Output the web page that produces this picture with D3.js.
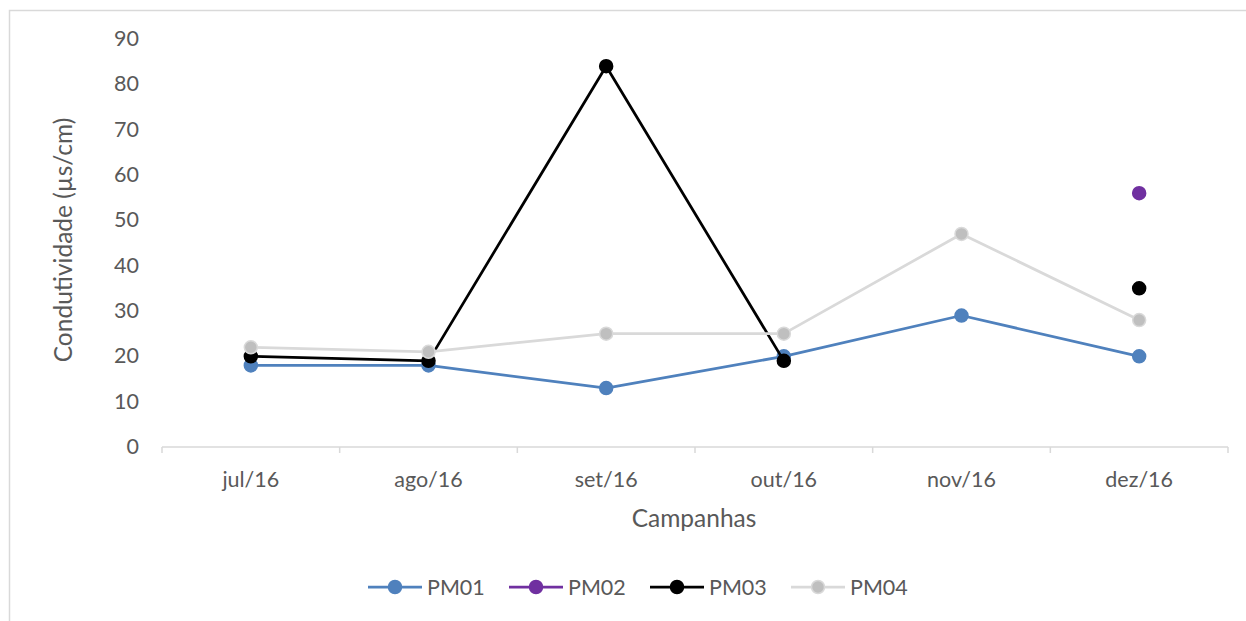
<!DOCTYPE html>
<html><head><meta charset="utf-8">
<script src="https://cdn.jsdelivr.net/npm/d3@7"></script>
<style>body{margin:0;background:#fff}svg{display:block}text{font-family:Lato,"Open Sans",sans-serif;fill:#595959}</style>
</head><body>
<svg id="c" width="1246" height="621"></svg>
<script>
const categories = ["jul/16","ago/16","set/16","out/16","nov/16","dez/16"];
const seriesNames = ["PM01","PM02","PM03","PM04"];
const PM01 = [18,18,13,20,29,20];
const PM02 = [null,null,null,null,null,56];
const PM03 = [20,19,84,19,null,35];
const PM04 = [22,21,25,25,47,28];
const yTicks = [0,10,20,30,40,50,60,70,80,90];
const colors = {PM01:{line:"#4F81BD",dot:"#4F81BD",stroke:"#4F81BD"},PM02:{line:"#7030A0",dot:"#7030A0",stroke:"#7030A0"},PM03:{line:"#000000",dot:"#000000",stroke:"#000000"},PM04:{line:"#D9D9D9",dot:"#BFBFBF",stroke:"#D9D9D9"}};
const data = {PM01,PM02,PM03,PM04};

const svg = d3.select("#c");
svg.append("rect").attr("x",9.5).attr("y",10.5).attr("width",1246).attr("height",620).attr("fill","#fff").attr("stroke","#D9D9D9").attr("stroke-width",1.5);

const x = d3.scaleBand().domain(categories).range([162,1228]);
const y = d3.scaleLinear().domain([0,90]).range([447,39]);

// x axis
const xa = svg.append("g").attr("transform","translate(0,447)");
xa.append("line").attr("x1",162).attr("x2",1228).attr("stroke","#D9D9D9").attr("stroke-width",1.5);
const bounds = d3.range(categories.length+1).map(i=>162+i*x.bandwidth());
xa.selectAll("line.t").data(bounds).join("line").attr("class","t").attr("x1",d=>d).attr("x2",d=>d).attr("y1",0).attr("y2",6).attr("stroke","#D9D9D9").attr("stroke-width",1.5);
xa.selectAll("text").data(categories).join("text").attr("x",d=>x(d)+x.bandwidth()/2).attr("y",40).attr("text-anchor","middle").attr("font-size",21.5).text(d=>d);

// y axis labels
svg.selectAll("text.yt").data(yTicks).join("text").attr("class","yt").attr("x",139).attr("y",d=>y(d)+7).attr("text-anchor","end").attr("font-size",21.5).text(d=>d);

// titles
svg.append("text").attr("transform","translate(72,240) rotate(-90)").attr("text-anchor","middle").attr("font-size",24.5).text("Condutividade (µs/cm)");
svg.append("text").attr("x",694).attr("y",527).attr("text-anchor","middle").attr("font-size",24.5).text("Campanhas");

const cx = i=>x(categories[i])+x.bandwidth()/2;
seriesNames.forEach(name=>{
  const vals = data[name];
  const c = colors[name];
  const line = d3.line().defined(d=>d!=null).x((d,i)=>cx(i)).y(d=>y(d));
  svg.append("path").datum(vals).attr("d",line).attr("fill","none").attr("stroke",c.line).attr("stroke-width",2.75).attr("stroke-linejoin","round");
  svg.append("g").selectAll("circle").data(vals.map((v,i)=>({v,i})).filter(d=>d.v!=null)).join("circle")
    .attr("cx",d=>cx(d.i)).attr("cy",d=>y(d.v)).attr("r",6.5).attr("fill",c.dot).attr("stroke",c.stroke).attr("stroke-width",1.5);
});

// legend
const lg = svg.append("g");
seriesNames.forEach((name,k)=>{
  const c = colors[name];
  const g = lg.append("g").attr("transform",`translate(${368+k*141},587)`);
  g.append("line").attr("x1",0).attr("x2",54).attr("stroke",c.line).attr("stroke-width",2.75);
  g.append("circle").attr("cx",27).attr("cy",0).attr("r",6.5).attr("fill",c.dot).attr("stroke",c.stroke).attr("stroke-width",1.5);
  g.append("text").attr("x",59).attr("y",8).attr("font-size",21.5).text(name);
});
</script>
</body></html>
